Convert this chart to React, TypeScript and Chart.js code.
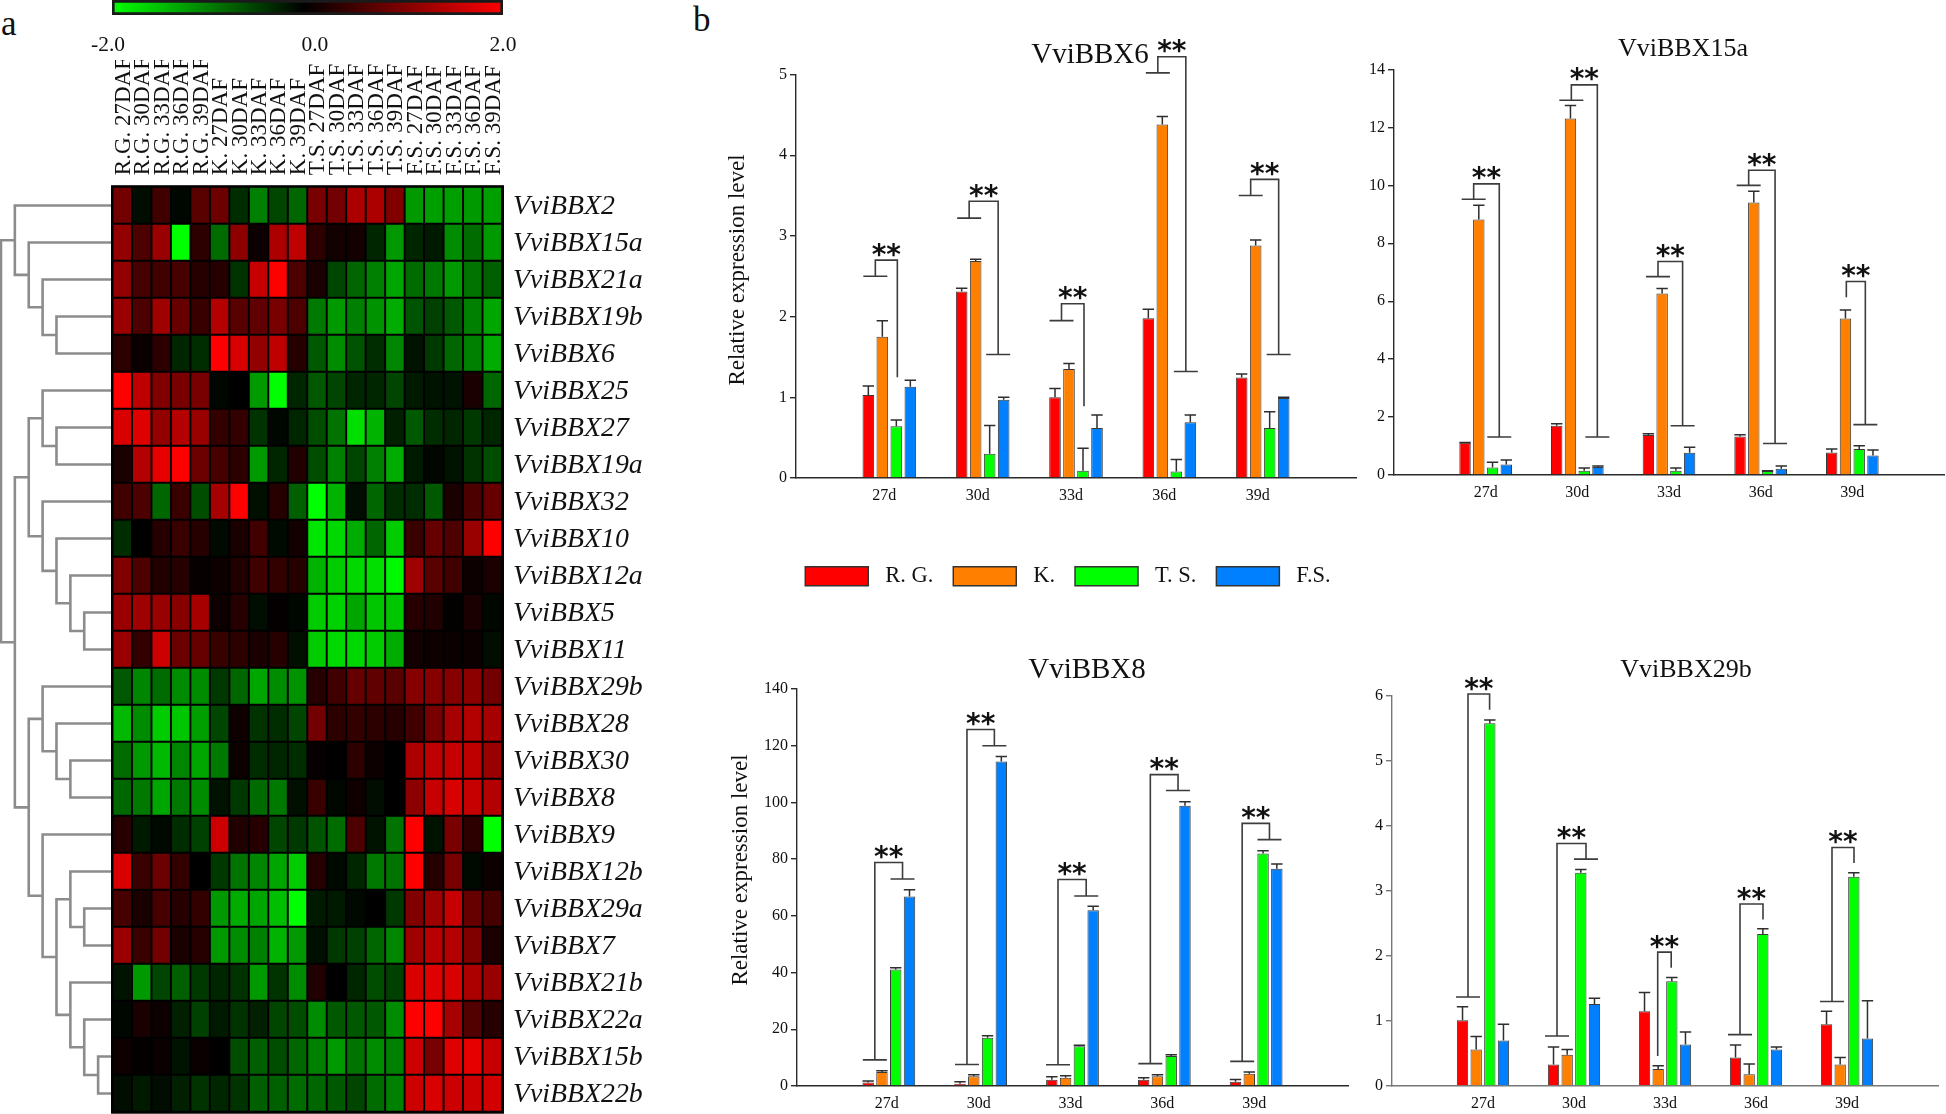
import React, { useEffect, useRef } from "react";
import { Chart, registerables } from "chart.js";
Chart.register(...registerables);

const SERIF = '"Liberation Serif", serif';

/* ---------- heat map data ---------- */
const conditions = [
  "R.G. 27DAF","R.G. 30DAF","R.G. 33DAF","R.G. 36DAF","R.G. 39DAF",
  "K. 27DAF","K. 30DAF","K. 33DAF","K. 36DAF","K. 39DAF",
  "T.S. 27DAF","T.S. 30DAF","T.S. 33DAF","T.S. 36DAF","T.S. 39DAF",
  "F.S. 27DAF","F.S. 30DAF","F.S. 33DAF","F.S. 36DAF","F.S. 39DAF",
];
const genes = [
  "VviBBX2","VviBBX15a","VviBBX21a","VviBBX19b","VviBBX6","VviBBX25","VviBBX27","VviBBX19a","VviBBX32",
  "VviBBX10","VviBBX12a","VviBBX5","VviBBX11","VviBBX29b","VviBBX28","VviBBX30","VviBBX8","VviBBX9",
  "VviBBX12b","VviBBX29a","VviBBX7","VviBBX21b","VviBBX22a","VviBBX15b","VviBBX22b",
];
const heatValues = [
  [.9,-.1,.5,-.05,.7,.85,-.35,-1,-.55,-.8,.95,.9,1.35,1.35,1,-1.2,-1.25,-1.25,-1.2,-1.25],
  [1.15,.6,1.2,-2,.35,-.85,1.1,.1,1.35,1.5,.35,.15,.15,-.3,-1.2,-.3,-.2,-1.1,-.85,-1.2],
  [1.15,.55,.5,.55,.3,.3,-.4,1.55,2,.6,.2,-.55,-.8,-1,-1.3,-.85,-.95,-1.2,-.9,-.75],
  [1.2,.6,1.25,.8,.45,1.4,.7,.75,.95,.6,-.95,-1.2,-1,-1.15,-1.35,-.65,-.5,-.7,-1,-1.3],
  [.35,.08,.35,-.3,-.35,2,1.7,1.15,1.5,.3,-.7,-1.1,-.65,-.35,-1.05,-.15,-.45,-.8,-1,-1.35],
  [2,1.5,1,.95,.95,-.05,0,-1.2,-2,-.3,-.7,-.55,-.3,-.3,-.55,-.2,-.15,-.15,.2,-.8],
  [1.7,1.75,1.15,1.4,1.2,.4,.4,-.4,-.05,-.3,-.6,-.9,-1.75,-1.4,-.25,-.7,-.35,-.3,-.45,-.3],
  [.2,1.4,1.8,2,.85,.55,.35,-1.2,-.3,.25,-.6,-1,-.55,-1,-1.35,-.2,-.05,-.15,-.4,-.6],
  [.5,.6,-.8,.45,-.6,1.3,2,-.12,.3,-.75,-2,-1.4,-.1,-.8,-.35,-.35,-.7,.2,.6,.8],
  [-.35,0,.3,.45,.3,-.08,.2,.5,-.08,.15,-1.8,-1.7,-1.35,-.8,-1.6,.45,.8,.6,1.2,2],
  [1,.6,.25,.3,.05,.1,.25,.5,.4,.3,-1.4,-1.6,-1.7,-1.75,-1.95,1.25,.7,.5,.1,.2],
  [1.2,1.25,1.2,1.05,1.3,.12,.3,-.1,.03,-.05,-1.6,-1.65,-1.3,-1.55,-1.55,.3,.25,.02,.2,-.05],
  [1.2,.4,1.6,.85,.8,.45,.35,.2,.3,-.12,-1.6,-1.7,-1.7,-1.6,-1.35,.15,.12,.08,.1,-.1],
  [-.7,-1.05,-.85,-1.1,-1.1,-.45,-.8,-1.3,-1.1,-1.15,.3,.5,.8,.75,.7,1.05,1.05,1.05,1.1,.9],
  [-1.45,-1.1,-1.6,-1.55,-1.25,-.55,.12,-.4,-.35,-.55,.9,.35,.4,.35,.3,.5,.95,1.3,1.4,1.3],
  [-.85,-1.2,-1.45,-1.05,-1.3,-.95,.1,-.35,-.3,-.35,.05,0,.35,.1,0,1.35,1.5,1.55,1.5,1.2],
  [-.8,-.95,-1.3,-.95,-1.1,-.15,-.45,-.85,-.95,-.12,.45,-.05,.12,-.1,0,1.1,1.55,1.7,1.55,1.4],
  [.3,-.2,-.07,-.35,-.5,1.6,.25,.3,-.55,-.45,-.65,-.85,.6,-.15,-.9,2,-.15,.95,.35,-2],
  [1.7,.45,.85,.4,0,-.45,-.9,-1.05,-1.3,-1.6,.3,-.07,-.3,-.95,-.9,2,.3,.95,-.07,.1],
  [.55,.2,.55,.3,.4,-1.2,-1.35,-1.3,-1.5,-2,-.2,-.2,-.07,0,-.45,1,1.25,1.55,.8,.55],
  [1.2,.45,.9,.2,.3,-1.2,-1.1,-1,-1.4,-1.2,-.12,-.45,-.5,-.8,-1.05,1.25,1.45,1.4,1,.2],
  [-.15,-1.2,-.55,-.75,-.45,-.3,-.4,-1.2,-.4,-1.1,.25,0,-.3,-.6,-.5,1.7,1.75,1.7,1.35,1.2],
  [-.05,.2,.1,-.25,-.5,-.2,-.4,-.25,-.55,-.6,-1.1,-.7,-.7,-.7,-1.1,2,2,1.3,.65,.3],
  [.12,.03,.08,-.15,.08,0,-.6,-.75,-.6,-.8,-1,-1.2,-.9,-1.1,-1,1.6,.95,1.75,1.8,1.55],
  [-.1,-.2,-.1,-.25,-.4,-.3,-.4,-.75,-.75,-.85,-.8,-.7,-.55,-.85,-1,1.6,1.7,1.6,1.6,1.65],
];
/* dendrogram: [merge depth, child, child]; a number is a row of the heat map */
const dendrogram: any = [8,
  [7, 0, [6, 1, [5, 2, [4, 3, 4]]]],
  [7,
    [6, [5, 5, [4, 6, 7]], [5, 8, [4, 9, [3, 10, [2, 11, 12]]]]],
    [6,
      [5, 13, [4, 14, [3, 15, 16]]],
      [5, 17, [4, [3, 18, [2, 19, 20]], [3, 21, [2, 22, [1, 23, 24]]]]],
    ],
  ],
];

/* ---------- bar panels data: series order R.G., K., T.S., F.S. ---------- */
const seriesNames = ["R. G.", "K.", "T. S.", "F.S."];
const seriesColors = ["#ff0000", "#ff8000", "#00ff00", "#0080ff"];
const days = ["27d", "30d", "33d", "36d", "39d"];

const bbx6Mean = [[1.03,2.31,1,1.98,1.245],[1.75,2.69,1.35,4.38,2.88],[.64,.3,.09,.08,.62],[1.13,.97,.62,.69,.99]];
const bbx6Upper = [[1.14,2.35,1.11,2.09,1.29],[1.95,2.71,1.42,4.48,2.95],[.72,.65,.37,.23,.82],[1.21,1,.78,.78,1]];
const bbx6Tops = [2.7,3.43,2.16,5.22,3.7];
const bbx6LeftEnds = [2.5,3.22,1.95,5.02,3.5];
const bbx6RightEnds = [1.25,1.53,.89,1.32,1.53];

const bbx15aMean = [[1.11,1.7,1.38,1.33,.78],[8.82,12.31,6.27,9.41,5.4],[.26,.15,.15,.14,.9],[.36,.28,.77,.22,.67]];
const bbx15aUpper = [[1.12,1.77,1.42,1.39,.9],[9.31,12.76,6.44,9.8,5.7],[.44,.24,.24,.15,1.01],[.52,.31,.96,.31,.86]];
const bbx15aTops = [10.05,13.47,7.37,10.52,6.68];
const bbx15aLeftEnds = [9.52,12.94,6.85,10,6.14];
const bbx15aRightEnds = [1.31,1.31,1.7,1.09,1.74];

const bbx8Mean = [[1.2,.8,2.2,2.2,1.5],[4.9,3.4,2.9,3.4,4.3],[41.1,17,14,10.6,82],[66.8,114.4,62,98.8,76.6]];
const bbx8Upper = [[1.76,1.5,3.3,2.9,2.3],[5.4,4,3.6,4,4.9],[41.7,17.7,14.4,11,83],[69.2,116.2,63.4,100.2,78.3]];
const bbx8Tops = [78.8,125.7,72.8,109.8,92.6];
const bbx8LeftEnds = [9.2,7.6,7.5,7.9,8.7];
const bbx8RightEnds = [73,120,67,104.2,86.9];

const bbx29bMean = [[1.01,.33,1.15,.44,.95],[.56,.48,.26,.18,.33],[5.58,3.28,1.61,2.34,3.22],[.7,1.26,.64,.56,.73]];
const bbx29bUpper = [[1.22,.6,1.44,.63,1.15],[.76,.56,.31,.34,.44],[5.63,3.33,1.67,2.42,3.28],[.95,1.35,.83,.6,1.31]];
const bbx29bTops = [6.03,3.73,2.06,2.8,3.67];
const bbx29bLeftEnds = [1.37,.77,.46,.79,1.3];
const bbx29bRightEnds = [5.79,3.49,1.82,2.56,3.43];

/* bracket leg offsets from the group centre in px, and whether each leg ends in a cap */
const bbx6Legs = [[-14,8,1,0],[-13.5,15.5,1,1],[-14.5,8,1,0],[-11.5,16.5,1,1],[-12,16,1,1]];
const bbx15aLegs = [[-12,13.6,1,1],[-6,20,1,1],[-11,13.6,1,1],[-12,14.4,1,1],[-6,13,0,1]];
const bbx8Legs = [[-14,13.7,1,1],[-13.7,13.7,1,1],[-14.5,13.7,1,1],[-14,13.7,1,1],[-14,13.3,1,1]];
const bbx29bLegs = [[-15,6.6,1,0],[-17,12,1,1],[-7.3,6.2,0,0],[-16,7,1,0],[-15,7,1,0]];

/* ---------- helpers ---------- */
function heatColor(v: number) {
  const k = Math.round((Math.min(Math.abs(v), 2) / 2) * 255);
  return v >= 0 ? `rgb(${k},0,0)` : `rgb(0,${k},0)`;
}

function ChartCanvas({ left, top, width, height, make }: any) {
  const ref = useRef<HTMLCanvasElement>(null);
  useEffect(() => {
    const chart = new Chart(ref.current as any, make());
    return () => chart.destroy();
  }, []);
  return (
    <canvas ref={ref} width={width} height={height}
      style={{ position: "absolute", left, top, width, height, display: "block" }} />
  );
}

/* ---------- colour scale ---------- */
function colorBarConfig() {
  return {
    type: "bar",
    data: {
      labels: ["scale"],
      datasets: [{
        data: [[-2, 2]],
        barPercentage: 1,
        categoryPercentage: 1,
        borderColor: "#1a1a1a",
        borderWidth: 3,
        borderSkipped: false,
        backgroundColor: (c: any) => {
          const area = c.chart.chartArea;
          if (!area) return "#000";
          const g = c.chart.ctx.createLinearGradient(area.left, 0, area.right, 0);
          g.addColorStop(0, "#00ff00");
          g.addColorStop(0.49, "#000000");
          g.addColorStop(1, "#ff0000");
          return g;
        },
      }],
    },
    options: {
      animation: false, responsive: false, indexAxis: "y",
      layout: { padding: { left: 72, right: 47, top: 0, bottom: 0 } },
      plugins: { legend: { display: false }, tooltip: { enabled: false } },
      scales: {
        y: { display: false },
        x: {
          min: -2, max: 2,
          afterFit: (s: any) => { s.height = 45; },
          // the printed 0.0 and -2.0 sit slightly off the true scale positions in the source figure
          afterBuildTicks: (s: any) => { s.ticks = [{ value: -2.04 }, { value: 0.075 }, { value: 2 }]; },
          grid: { display: false, drawTicks: false }, border: { display: false },
          ticks: { padding: 17, maxRotation: 0, color: "#111",
            font: { family: SERIF, size: 21.5 }, callback: (v: any) => (Math.round(Number(v) / 2) * 2).toFixed(1) },
        },
      },
    },
  };
}

/* ---------- heat map ---------- */
const heatFrame = {
  id: "heatFrame",
  beforeDatasetsDraw(chart: any) {
    const { ctx, chartArea: a } = chart;
    ctx.save();
    ctx.fillStyle = "#000";
    ctx.fillRect(a.left - 1.5, a.top - 1.5, a.width + 3.5, a.height + 3.5);
    ctx.restore();
  },
};

function heatConfig() {
  return {
    type: "bar",
    data: {
      labels: conditions,
      datasets: heatValues.map((row, r) => ({
        label: genes[r],
        data: row.map(() => [r, r + 1]),
        backgroundColor: row.map(heatColor),
        borderColor: "#000",
        borderWidth: 1.3,
        borderSkipped: false,
        grouped: false,
        barPercentage: 1,
        categoryPercentage: 1,
      })),
    },
    plugins: [heatFrame],
    options: {
      animation: false, responsive: false,
      layout: { padding: { left: 52.5, right: 0, top: 10, bottom: 38.3 } },
      plugins: { legend: { display: false }, tooltip: { enabled: false } },
      scales: {
        x: {
          position: "top",
          afterFit: (s: any) => { s.height = 126.7; },
          grid: { display: false, drawTicks: false }, border: { display: false },
          ticks: { minRotation: 90, maxRotation: 90, autoSkip: false, padding: 11.5, labelOffset: 29, color: "#111",
            font: { family: SERIF, size: 23 } },
        },
        y: { display: false, min: 0, max: 25, reverse: true },
        yGene: {
          type: "category", labels: genes, position: "right", offset: true,
          afterFit: (s: any) => { s.width = 160; },
          grid: { display: false, drawTicks: false }, border: { display: false },
          ticks: { autoSkip: false, padding: 11, labelOffset: 1.5, color: "#111",
            font: { family: SERIF, size: 27.8, style: "italic" } },
        },
      },
    },
  };
}

/* ---------- dendrogram ---------- */
function dendroSegments(node: any, out: any[]): { d: number; y: number } {
  if (typeof node === "number") return { d: 0, y: node + 0.5 };
  const [d, a, b] = node;
  const pa = dendroSegments(a, out);
  const pb = dendroSegments(b, out);
  out.push([{ x: pa.d, y: pa.y }, { x: d, y: pa.y }, { x: d, y: pb.y }, { x: pb.d, y: pb.y }]);
  return { d, y: (pa.y + pb.y) / 2 };
}

function dendroConfig() {
  const segments: any[] = [];
  dendroSegments(dendrogram, segments);
  return {
    type: "scatter",
    data: {
      datasets: segments.map((data) => ({
        data, showLine: true, borderColor: "#8c8c8c", borderWidth: 2.6, pointRadius: 0, clip: false,
        borderJoinStyle: "miter", tension: 0,
      })),
    },
    options: {
      animation: false, responsive: false,
      layout: { padding: 0 },
      plugins: { legend: { display: false }, tooltip: { enabled: false } },
      scales: {
        x: { display: false, min: 0, max: 8.07, reverse: true },
        y: { display: false, min: 0, max: 25, reverse: true },
      },
    },
  };
}

/* ---------- bar panels ---------- */
function panelDecor(p: any) {
  return {
    id: "panelDecor",
    afterDraw(chart: any) {
      const { ctx, scales: { x, y } } = chart;
      ctx.save();
      // error bars, upper half only
      ctx.strokeStyle = "#2e2e2e";
      ctx.lineWidth = 1.5;
      chart.data.datasets.forEach((ds: any, s: number) => {
        const meta = chart.getDatasetMeta(s);
        p.upper[s].forEach((u: number, i: number) => {
          const bar = meta.data[i + 1];
          const yu = y.getPixelForValue(u);
          ctx.beginPath();
          ctx.moveTo(bar.x, y.getPixelForValue(p.mean[s][i]));
          ctx.lineTo(bar.x, yu);
          ctx.moveTo(bar.x - 5.7, yu);
          ctx.lineTo(bar.x + 5.7, yu);
          ctx.stroke();
        });
      });
      // significance brackets
      ctx.strokeStyle = "#3c3c3c";
      ctx.lineWidth = 1.6;
      p.tops.forEach((t: number, i: number) => {
        const cx = x.getPixelForValue(i + 1);
        const [dl, dr, capL, capR] = p.legs[i];
        const xl = cx + dl, xr = cx + dr;
        const yt = y.getPixelForValue(t);
        const yl = y.getPixelForValue(p.leftEnds[i]);
        const yr = y.getPixelForValue(p.rightEnds[i]);
        ctx.beginPath();
        ctx.moveTo(xl, yl); ctx.lineTo(xl, yt); ctx.lineTo(xr, yt); ctx.lineTo(xr, yr);
        if (capL) { ctx.moveTo(xl - 12, yl); ctx.lineTo(xl + 12, yl); }
        if (capR) { ctx.moveTo(xr - 12, yr); ctx.lineTo(xr + 12, yr); }
        ctx.stroke();
        ctx.fillStyle = "#111";
        ctx.font = 'bold 28px "DejaVu Sans"';
        ctx.textAlign = "center";
        ctx.textBaseline = "alphabetic";
        ctx.fillText("**", (xl + xr) / 2, yt + 3.5);
      });
      // panel title and value-axis title
      ctx.fillStyle = "#111";
      ctx.textBaseline = "middle";
      ctx.textAlign = "center";
      ctx.font = `${p.titleSize}px ${SERIF}`;
      ctx.fillText(p.title, p.titleX, p.titleY);
      if (p.yTitle) {
        ctx.translate(p.yTitleX, p.yTitleY);
        ctx.rotate(-Math.PI / 2);
        ctx.font = `23px ${SERIF}`;
        ctx.fillText(p.yTitle, 0, 0);
      }
      ctx.restore();
    },
  };
}

function panelConfig(p: any) {
  return {
    type: "bar",
    data: {
      labels: ["", ...days, ""],
      datasets: p.mean.map((vals: number[], s: number) => ({
        label: seriesNames[s],
        data: [null, ...vals, null],
        backgroundColor: seriesColors[s],
        borderColor: "#3a3a3a",
        borderWidth: 1,
        borderSkipped: "bottom",
        categoryPercentage: 0.6,
        barPercentage: 0.83,
      })),
    },
    plugins: [panelDecor(p)],
    options: {
      animation: false, responsive: false,
      layout: { padding: { left: 0, right: p.padRight, top: p.padTop, bottom: p.padBottom } },
      plugins: { legend: { display: false }, tooltip: { enabled: false } },
      scales: {
        x: {
          offset: false,
          afterFit: (s: any) => { s.height = 28; },
          grid: { display: false, drawTicks: false },
          border: { display: true, color: p.axisColor, width: 1.6 },
          ticks: { autoSkip: false, maxRotation: 0, padding: 8, labelOffset: p.labelShift, color: "#111", font: { family: SERIF, size: 16 } },
        },
        y: {
          min: 0, max: p.max,
          afterFit: (s: any) => { s.width = p.axisWidth; },
          grid: { display: true, drawOnChartArea: false, drawTicks: true, tickLength: 6, color: p.axisColor, lineWidth: 1.4 },
          border: { display: true, color: p.axisColor, width: 1.4 },
          ticks: { stepSize: p.step, padding: 3, color: "#111", font: { family: SERIF, size: 16 } },
        },
      },
    },
  };
}

function legendConfig() {
  return {
    type: "bar",
    data: {
      labels: [],
      datasets: seriesNames.map((label, s) => ({
        label, data: [], backgroundColor: seriesColors[s], borderColor: "#333", borderWidth: 1.5,
      })),
    },
    options: {
      animation: false, responsive: false,
      layout: { padding: 0 },
      plugins: {
        tooltip: { enabled: false },
        legend: {
          display: true, position: "top",
          labels: {
            boxWidth: 63, boxHeight: 19, padding: 20, color: "#111",
            font: { family: SERIF, size: 22.5 },
            // a leading space widens the gap between swatch and text, as in the figure
            generateLabels: (chart: any) =>
              Chart.defaults.plugins.legend.labels.generateLabels(chart).map((l: any) => ({ ...l, text: " " + l.text })),
          },
        },
      },
      scales: { x: { display: false }, y: { display: false } },
    },
  };
}

const panel6 = { title: "VviBBX6", titleSize: 29, titleX: 374, titleY: 55, yTitle: "Relative expression level", yTitleX: 22, yTitleY: 270, labelShift: -5, axisColor: "#2a2a2a",
  mean: bbx6Mean, upper: bbx6Upper, tops: bbx6Tops, leftEnds: bbx6LeftEnds, rightEnds: bbx6RightEnds, legs: bbx6Legs,
  max: 5, step: 1, axisWidth: 80, padTop: 74.5, padBottom: 14, padRight: 10 };
const panel15a = { title: "VviBBX15a", titleSize: 26, titleX: 343, titleY: 49, labelShift: 0, axisColor: "#2a2a2a",
  mean: bbx15aMean, upper: bbx15aUpper, tops: bbx15aTops, leftEnds: bbx15aLeftEnds, rightEnds: bbx15aRightEnds, legs: bbx15aLegs,
  max: 14, step: 2, axisWidth: 54, padTop: 69.5, padBottom: 17, padRight: 0 };
const panel8 = { title: "VviBBX8", titleSize: 29, titleX: 371, titleY: 30, yTitle: "Relative expression level", yTitleX: 25, yTitleY: 230, labelShift: -2, axisColor: "#2a2a2a",
  mean: bbx8Mean, upper: bbx8Upper, tops: bbx8Tops, leftEnds: bbx8LeftEnds, rightEnds: bbx8RightEnds, legs: bbx8Legs,
  max: 140, step: 20, axisWidth: 81, padTop: 49, padBottom: 0, padRight: 4 };
const panel29b = { title: "VviBBX29b", titleSize: 26, titleX: 346, titleY: 30, labelShift: 0, axisColor: "#777",
  mean: bbx29bMean, upper: bbx29bUpper, tops: bbx29bTops, leftEnds: bbx29bLeftEnds, rightEnds: bbx29bRightEnds, legs: bbx29bLegs,
  max: 6, step: 1, axisWidth: 52, padTop: 56, padBottom: 0, padRight: 4 };

const letterStyle: any = { position: "absolute", font: `35px ${SERIF}`, color: "#111", lineHeight: "40px" };

export default function App() {
  return (
    <div style={{ position: "absolute", left: 0, top: 0, width: 1946, height: 1114, overflow: "hidden", background: "#fff" }}>
      <div style={{ ...letterStyle, left: 1, top: 4 }}>a</div>
      <div style={{ ...letterStyle, left: 693, top: 0 }}>b</div>
      <ChartCanvas left={40} top={0} width={510} height={60} make={colorBarConfig} />
      <ChartCanvas left={0} top={186.7} width={112} height={925} make={dendroConfig} />
      <ChartCanvas left={60} top={50} width={602} height={1100} make={heatConfig} />
      <ChartCanvas left={716} top={0} width={650} height={520} make={() => panelConfig(panel6)} />
      <ChartCanvas left={1340} top={0} width={612} height={520} make={() => panelConfig(panel15a)} />
      <ChartCanvas left={716} top={640} width={640} height={474} make={() => panelConfig(panel8)} />
      <ChartCanvas left={1340} top={640} width={606} height={474} make={() => panelConfig(panel29b)} />
      <ChartCanvas left={783} top={545} width={570} height={120} make={legendConfig} />
    </div>
  );
}
